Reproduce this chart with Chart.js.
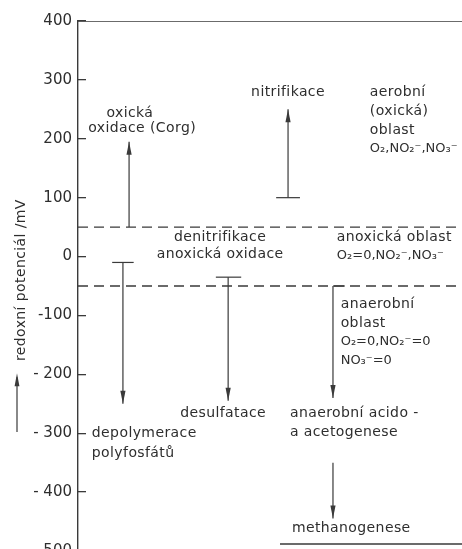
<!DOCTYPE html>
<html>
<head>
<meta charset="utf-8">
<script src="https://cdn.jsdelivr.net/npm/chart.js@4"></script>
<style>
html, body { margin: 0; padding: 0; background: #fff; overflow: hidden; }
</style>
</head>
<body>
<canvas id="myChart" width="462" height="560"></canvas>
<script>
// redox potential axis (mV)
var yTicks = [400, 300, 200, 100, 0, -100, -200, -300, -400, -500];
var tickLabels = ['400', '300', '200', '100', '0', '-100', '- 200', '- 300', '- 400', '-500'];
// zone borders (dashed)
var zoneBounds = [50, -50];
// process arrows: horizontal place (0-100), start and end potential (mV)
var arrowX    = [13.3, 54.7, 11.7, 39.1, 66.4, 66.4];
var arrowFrom = [50, 100, -10, -35, -50, -350];
var arrowTo   = [195, 250, -250, -245, -240, -445];
var capLeft   = [0, 3.1, 2.8, 3.2, 0, 0];
var capRight  = [0, 3.1, 2.8, 3.4, 3.1, 0];
// text notes: text, place (0-100), potential (mV), align
var notes = [
    ['oxická', 13.5, 244, 'center'],
    ['oxidace (Corg)', 16.7, 218, 'center'],
    ['nitrifikace', 54.7, 278, 'center'],
    ['aerobní', 76, 278, 'left'],
    ['(oxická)', 76, 246, 'left'],
    ['oblast', 76, 214, 'left'],
    ['O₂,NO₂⁻,NO₃⁻', 76, 183, 'left'],
    ['denitrifikace', 37, 33, 'center'],
    ['anoxická oxidace', 37, 3, 'center'],
    ['anoxická oblast', 67.4, 33, 'left'],
    ['O₂=0,NO₂⁻,NO₃⁻', 67.4, 2, 'left'],
    ['anaerobní', 68.4, -81, 'left'],
    ['oblast', 68.4, -113, 'left'],
    ['O₂=0,NO₂⁻=0', 68.4, -145, 'left'],
    ['NO₃⁻=0', 68.4, -176, 'left'],
    ['desulfatace', 37.8, -266, 'center'],
    ['depolymerace', 3.6, -300, 'left'],
    ['polyfosfátů', 3.6, -334, 'left'],
    ['anaerobní acido -', 55.2, -266, 'left'],
    ['a acetogenese', 55.2, -298, 'left'],
    ['methanogenese', 55.7, -461, 'left']
];
var axisTitle = 'redoxní potenciál /mV';

var ink = '#3a3a3a';
var font = '"DejaVu Sans", sans-serif';

var datasets = [];
// top frame line and bottom edge line
datasets.push({ data: [{x: 0, y: 400}, {x: 100, y: 400}], borderColor: ink, borderWidth: 1.4 });
datasets.push({ data: [{x: 52.6, y: -488}, {x: 100, y: -488}], borderColor: ink, borderWidth: 1.4 });
zoneBounds.forEach(function (b) {
    datasets.push({ data: [{x: 0, y: b}, {x: 100, y: b}], borderColor: ink, borderWidth: 1.3, borderDash: [10, 6] });
});
arrowX.forEach(function (x, i) {
    datasets.push({ data: [{x: x, y: arrowFrom[i]}, {x: x, y: arrowTo[i]}], borderColor: ink, borderWidth: 1.2, arrow: true });
    if (capLeft[i] || capRight[i]) {
        datasets.push({ data: [{x: x - capLeft[i], y: arrowFrom[i]}, {x: x + capRight[i], y: arrowFrom[i]}], borderColor: ink, borderWidth: 1.2 });
    }
});

var extras = {
    id: 'extras',
    afterDatasetsDraw: function (chart) {
        var c = chart.ctx, xs = chart.scales.x, ys = chart.scales.y;
        c.save();
        // arrow heads
        c.fillStyle = ink;
        chart.data.datasets.forEach(function (ds) {
            if (!ds.arrow) return;
            var p0 = ds.data[0], p1 = ds.data[1];
            var px = xs.getPixelForValue(p1.x), py = ys.getPixelForValue(p1.y);
            var dir = ys.getPixelForValue(p1.y) < ys.getPixelForValue(p0.y) ? 1 : -1;
            c.beginPath();
            c.moveTo(px, py);
            c.lineTo(px - 2.6, py + dir * 13);
            c.lineTo(px + 2.6, py + dir * 13);
            c.closePath();
            c.fill();
        });
        // notes (formulas a bit tighter so they fit)
        c.fillStyle = '#2e2e2e';
        c.textBaseline = 'middle';
        notes.forEach(function (n) {
            var formula = /[₂₃]/.test(n[0]);
            c.font = (formula ? '13px ' : '14px ') + font;
            c.letterSpacing = formula ? '0px' : '0.4px';
            c.textAlign = n[3];
            c.fillText(n[0], xs.getPixelForValue(n[1]), ys.getPixelForValue(n[2]));
        });
        // axis title with arrow
        c.font = '14px ' + font;
        c.letterSpacing = '0.4px';
        var tx = ys.left + 21;
        c.translate(tx, ys.getPixelForValue(-40));
        c.rotate(-Math.PI / 2);
        c.textAlign = 'center';
        c.fillText(axisTitle, 0, 0);
        c.restore();
        c.save();
        c.strokeStyle = ink;
        c.fillStyle = ink;
        c.lineWidth = 1.2;
        var ax = ys.left + 17, a0 = ys.getPixelForValue(-298), a1 = ys.getPixelForValue(-198);
        c.beginPath();
        c.moveTo(ax, a0);
        c.lineTo(ax, a1 + 4);
        c.stroke();
        c.beginPath();
        c.moveTo(ax, a1);
        c.lineTo(ax - 2.4, a1 + 13);
        c.lineTo(ax + 2.4, a1 + 13);
        c.closePath();
        c.fill();
        c.restore();
    }
};

var ctx = document.getElementById('myChart').getContext('2d');
var chart = new Chart(ctx, {
    type: 'line',
    data: { datasets: datasets },
    options: {
        responsive: false,
        animation: false,
        events: [],
        layout: { padding: { top: 21, bottom: 9, left: 0, right: 0 } },
        elements: { point: { radius: 0 }, line: { tension: 0 } },
        plugins: { legend: { display: false }, tooltip: { enabled: false } },
        scales: {
            x: { type: 'linear', min: 0, max: 100, display: false },
            y: {
                type: 'linear',
                min: -500,
                max: 400,
                afterFit: function (scale) {
                    scale.width = 78;
                    scale.paddingTop = 0;
                    scale.paddingBottom = 0;
                },
                afterBuildTicks: function (scale) {
                    scale.ticks = yTicks.map(function (v) { return { value: v }; });
                },
                border: { display: true, color: ink, width: 1.4 },
                grid: { drawOnChartArea: false, tickLength: -8, color: ink, lineWidth: 1.3 },
                ticks: {
                    padding: 14,
                    color: '#2e2e2e',
                    font: { family: font, size: 15 },
                    callback: function (value) {
                        var i = yTicks.indexOf(value);
                        return i >= 0 ? tickLabels[i] : '';
                    }
                }
            }
        }
    },
    plugins: [extras]
});
</script>
</body>
</html>
